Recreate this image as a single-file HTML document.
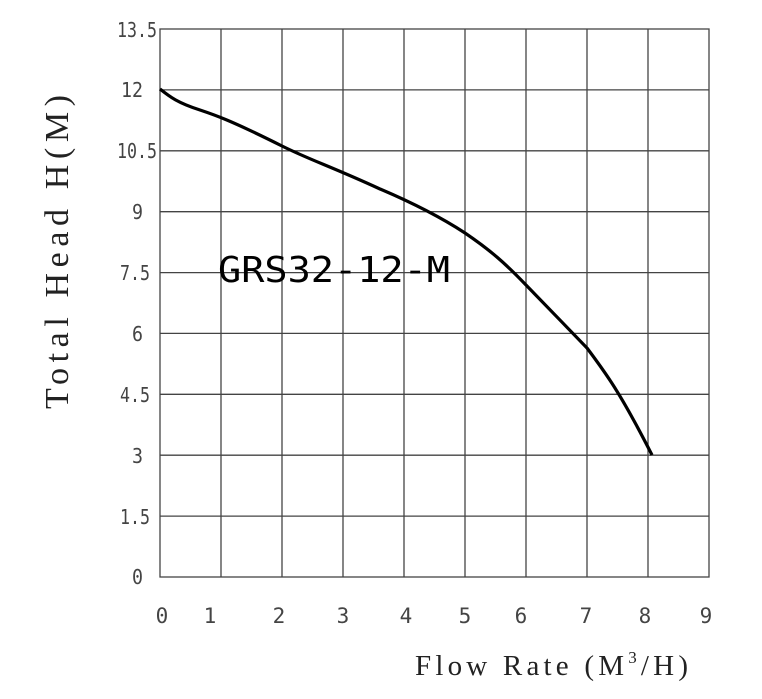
<!DOCTYPE html>
<html><head><style>body{margin:0;background:#fff}</style></head><body>
<svg width="762" height="694" xmlns="http://www.w3.org/2000/svg">
<rect width="762" height="694" fill="#fff"/>
<g stroke="#444" stroke-width="1.3" fill="none">
<rect x="160" y="29" width="549" height="548"/>
<path d="M221 29V577M282 29V577M343 29V577M404 29V577M465 29V577M526 29V577M587 29V577M648 29V577"/>
<path d="M160 89.9H709M160 150.8H709M160 211.7H709M160 272.6H709M160 333.4H709M160 394.3H709M160 455.2H709M160 516.1H709"/>
</g>
<path d="M160 89 C170 97,178 103,200 110 C215 115,230 120,282 146 C310 160,330 166,380 189 C420 206,445 220,465 233 C490 250,505 263,526 285 C550 310,565 325,587 348 C605 372,620 392,652 455" stroke="#000" stroke-width="3.2" fill="none"/>
<g font-family="'DejaVu Sans Mono',monospace" font-size="20" fill="#444" text-anchor="end">
<text x="157" y="37" textLength="40" lengthAdjust="spacingAndGlyphs">13.5</text>
<text x="143" y="97" textLength="22" lengthAdjust="spacingAndGlyphs">12</text>
<text x="157" y="158" textLength="40" lengthAdjust="spacingAndGlyphs">10.5</text>
<text x="143" y="219" textLength="11" lengthAdjust="spacingAndGlyphs">9</text>
<text x="150" y="280" textLength="30" lengthAdjust="spacingAndGlyphs">7.5</text>
<text x="143" y="341" textLength="11" lengthAdjust="spacingAndGlyphs">6</text>
<text x="150" y="402" textLength="30" lengthAdjust="spacingAndGlyphs">4.5</text>
<text x="143" y="463" textLength="11" lengthAdjust="spacingAndGlyphs">3</text>
<text x="150" y="524" textLength="30" lengthAdjust="spacingAndGlyphs">1.5</text>
<text x="143" y="584" textLength="11" lengthAdjust="spacingAndGlyphs">0</text>
</g>
<g font-family="'DejaVu Sans Mono',monospace" font-size="21" fill="#444" text-anchor="middle">
<text x="162" y="623">0</text><text x="210" y="623">1</text><text x="279" y="623">2</text><text x="343" y="623">3</text><text x="406" y="623">4</text><text x="465" y="623">5</text><text x="521" y="623">6</text><text x="586" y="623">7</text><text x="645" y="623">8</text><text x="706" y="623">9</text>
</g>
<text x="218" y="282" font-family="'DejaVu Sans Mono',monospace" font-size="36" fill="#000" textLength="232" lengthAdjust="spacingAndGlyphs">GRS32-12-M</text>
<text transform="translate(68,252) rotate(-90)" text-anchor="middle" font-family="'Liberation Serif',serif" font-size="34" fill="#222" textLength="314" lengthAdjust="spacing">Total Head H(M)</text>
<text x="415" y="675" font-family="'Liberation Serif',serif" font-size="29" fill="#222" textLength="273" lengthAdjust="spacing">Flow Rate (M<tspan font-size="17" dy="-12">3</tspan><tspan dy="12">/H)</tspan></text>
</svg>
</body></html>
